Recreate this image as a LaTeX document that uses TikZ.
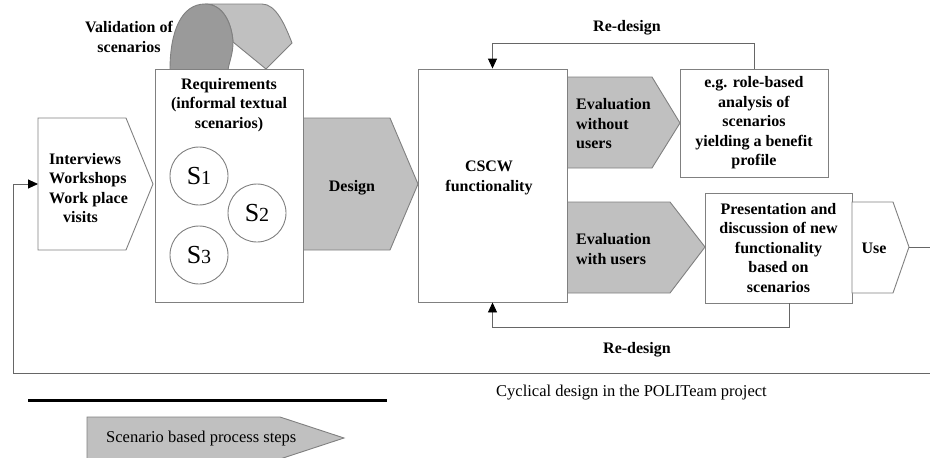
\documentclass[tikz,border=0pt]{standalone}
\usepackage{fontspec}
\setmainfont{Liberation Serif}
\usetikzlibrary{arrows.meta}

\definecolor{stepgray}{HTML}{C0C0C0}
\definecolor{archdark}{HTML}{9A9A9A}
\definecolor{edgegray}{HTML}{808080}

\begin{document}
\begin{tikzpicture}[
    x=1pt, y=-1pt,
    % process steps (pentagon arrows): plain or scenario based (gray)
    stepw/.style={draw=edgegray, fill=white, line width=0.9pt, line join=miter},
    stepg/.style={stepw, fill=stepgray},
    % plain boxes and scenario circles
    pbox/.style={draw=edgegray, fill=white, line width=0.9pt, inner sep=0pt},
    scen/.style={circle, draw=edgegray, fill=white, line width=0.9pt,
                 minimum size=58pt, inner sep=0pt, font=\fontsize{26}{26}\selectfont},
    % texts
    txt/.style={font=\bfseries\fontsize{16}{19.5}\selectfont, align=center, inner sep=0pt},
    txtl/.style={txt, align=left},
    plain/.style={font=\fontsize{16.5}{19}\selectfont, inner sep=0pt},
    % feedback connectors
    back/.style={-{Triangle[length=10pt,width=9pt,color=black]}, line width=0.9pt, black!60}
  ]
  \useasboundingbox (0,0) rectangle (930,458);

  % ===================== validation arch on top of the requirements =====================
  \draw[stepw, fill=stepgray] (205,4) -- (262,4) .. controls (276,4) and (285,25) .. (292,43)
    -- (266,69) -- (233,42) .. controls (232,25) and (224,4) .. (205,4) -- cycle;
  \draw[stepw, fill=archdark] (170,70) .. controls (170,30) and (182,4) .. (205,4)
    .. controls (224,4) and (232,25) .. (233,42) .. controls (233,55) and (229,62) .. (228,70) -- cycle;
  \node[txt] (valid) at (129,37) {Validation of\\scenarios};

  % ===================== left: interviews, requirements, design =====================
  \draw[stepw] (38,118) -- (126,118) -- (153,184) -- (126,250) -- (38,250) -- cycle;
  \coordinate (intvin) at (38,184);
  \node[txtl, anchor=west] (intv) at (49,188)
    {Interviews\\Workshops\\Work place\\\hspace*{14pt}visits};

  \draw[stepg] (303,118) -- (390,118) -- (418,184) -- (390,250) -- (303,250) -- cycle;
  \node[txt] (design) at (352,188) {Design};

  \node[pbox, minimum width=148pt, minimum height=233pt] (req) at (229,186) {};
  \node[txt] (reqtxt) at (229,105) {Requirements\\(informal textual\\scenarios)};
  \node[scen] (s1) at (199,176) {S{\fontsize{20}{20}\selectfont 1}};
  \node[scen] (s2) at (257,213) {S{\fontsize{20}{20}\selectfont 2}};
  \node[scen] (s3) at (199,255) {S{\fontsize{20}{20}\selectfont 3}};

  % ===================== right: functionality and evaluations =====================
  \draw[stepg] (567,77) -- (652,77) -- (680,123) -- (652,168) -- (567,168) -- cycle;
  \node[txtl, anchor=west] (evwo) at (576,124) {Evaluation\\without\\users};

  \draw[stepg] (567,202) -- (670,202) -- (705,247) -- (670,293) -- (567,293) -- cycle;
  \node[txtl, anchor=west] (evw) at (576,249) {Evaluation\\with users};

  \node[pbox, minimum width=149pt, minimum height=233pt] (cscw) at (492.5,185.5) {};
  \node[txt] (cscwtxt) at (489,178) {CSCW\\functionality};

  \node[pbox, txt, minimum width=148pt, minimum height=108pt] (egbox) at (754,123)
    {e.g. role-based\\analysis of\\scenarios\\yielding a benefit\\profile};
  \node[pbox, txt, minimum width=147pt, minimum height=110pt] (pres) at (778.5,248)
    {Presentation and\\discussion of new\\functionality\\based on\\scenarios};

  \draw[stepw] (852,202) -- (893,202) -- (909,247) -- (893,293) -- (852,293) -- cycle;
  \coordinate (usetip) at (909,247);
  \node[txt] (use) at (874,248) {Use};

  % ===================== re-design loops and the outer cycle =====================
  \draw[back] (egbox.north) -- ++(0,-25) -| (cscw.north);
  \node[txt] (redes1) at (627,28) {Re-design};
  \draw[back] ([xshift=10.5pt]pres.south) -- ++(0,24) -| (cscw.south);
  \node[txt] (redes2) at (637,350) {Re-design};
  \draw[back] (usetip) -- (950,247) |- (13,373) |- (intvin);

  \node[plain, anchor=west] (caption) at (496,393) {Cyclical design in the POLITeam project};

  % ===================== legend =====================
  \draw[line width=3pt] (28,400) -- (387,400);
  \draw[stepg] (87,417) -- (280,417) -- (344,438) -- (280,459) -- (87,459) -- cycle;
  \node[plain, anchor=west] (legend) at (106,439) {Scenario based process steps};

\end{tikzpicture}
\end{document}
